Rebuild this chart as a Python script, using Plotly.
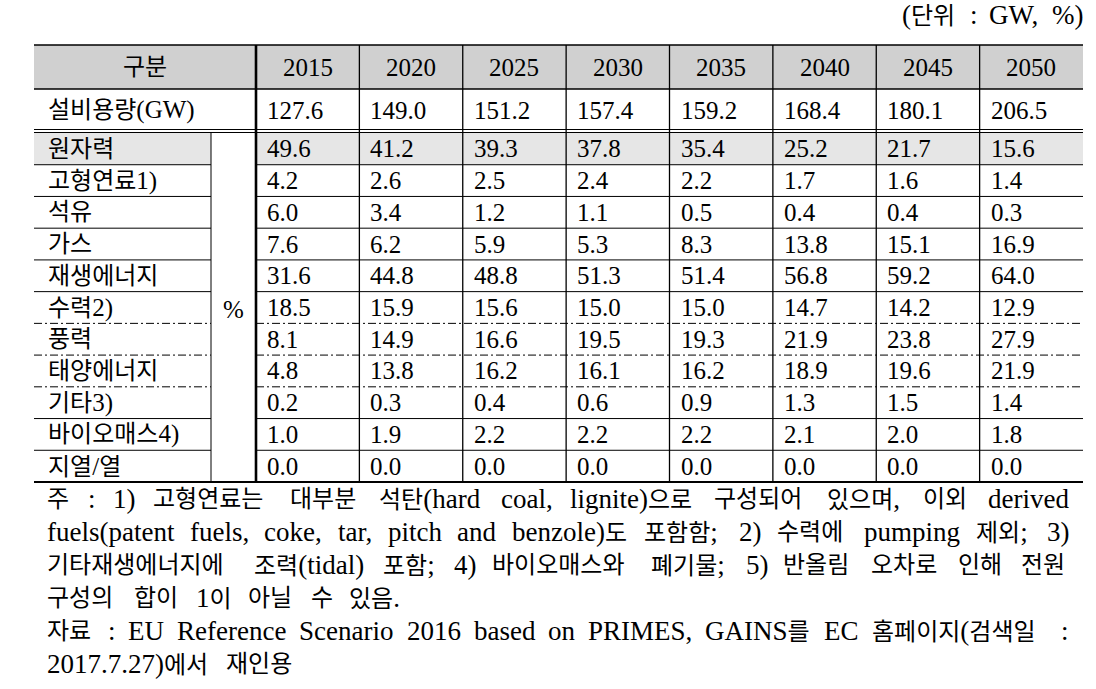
import re
import plotly.graph_objects as go

# ---------------- data ----------------
unit_label = "(단위 : GW, %)"
header_label = "구분"
years = ["2015", "2020", "2025", "2030", "2035", "2040", "2045", "2050"]

capacity_label = "설비용량(GW)"
capacity = [127.6, 149.0, 151.2, 157.4, 159.2, 168.4, 180.1, 206.5]

share_unit = "%"
share_labels = ["원자력", "고형연료1)", "석유", "가스", "재생에너지", "수력2)",
                "풍력", "태양에너지", "기타3)", "바이오매스4)", "지열/열"]
nuclear = [49.6, 41.2, 39.3, 37.8, 35.4, 25.2, 21.7, 15.6]
solid_fuels = [4.2, 2.6, 2.5, 2.4, 2.2, 1.7, 1.6, 1.4]
oil = [6.0, 3.4, 1.2, 1.1, 0.5, 0.4, 0.4, 0.3]
gas = [7.6, 6.2, 5.9, 5.3, 8.3, 13.8, 15.1, 16.9]
renewables = [31.6, 44.8, 48.8, 51.3, 51.4, 56.8, 59.2, 64.0]
hydro = [18.5, 15.9, 15.6, 15.0, 15.0, 14.7, 14.2, 12.9]
wind = [8.1, 14.9, 16.6, 19.5, 19.3, 21.9, 23.8, 27.9]
solar = [4.8, 13.8, 16.2, 16.1, 16.2, 18.9, 19.6, 21.9]
other_res = [0.2, 0.3, 0.4, 0.6, 0.9, 1.3, 1.5, 1.4]
biomass = [1.0, 1.9, 2.2, 2.2, 2.2, 2.1, 2.0, 1.8]
geothermal = [0.0, 0.0, 0.0, 0.0, 0.0, 0.0, 0.0, 0.0]
share_rows = [nuclear, solid_fuels, oil, gas, renewables, hydro, wind, solar,
              other_res, biomass, geothermal]

footnote_lines = [
    "주 : 1) 고형연료는 대부분 석탄(hard coal, lignite)으로 구성되어 있으며, 이외 derived",
    "fuels(patent fuels, coke, tar, pitch and benzole)도 포함함; 2) 수력에 pumping 제외; 3)",
    "기타재생에너지에 조력(tidal) 포함; 4) 바이오매스와 폐기물; 5) 반올림 오차로 인해 전원",
    "구성의 합이 1이 아닐 수 있음.",
    "자료 : EU Reference Scenario 2016 based on PRIMES, GAINS를 EC 홈페이지(검색일 :",
    "2017.7.27)에서 재인용",
]
footnote_justified = [True, True, True, False, True, False]

# ---------------- layout geometry ----------------
W, H = 1096, 689
X_LEFT, X_LAB, X_FIRST, X_RIGHT = 34, 211, 256, 1083
COL_W = (X_RIGHT - X_FIRST) / len(years)
Y_TOP, Y_HEAD, Y_CAP, Y_DATA, Y_BOT = 45, 89, 129.5, 133, 482
ROW_H = (Y_BOT - Y_DATA) / len(share_rows)
DASHED_AFTER = {5, 6, 7}
HEAD_GRAY = "#d0d0d0"
HILITE_GRAY = "#e6e6e6"
FONT = "'Liberation Serif', 'Noto Sans CJK KR', serif"
FS_KO = 24          # Korean glyphs in table
FS_NUM = 25         # numbers / latin in table
FS_NOTE_KO = 24     # Korean glyphs in notes
FS_NOTE_LAT = 27    # latin glyphs in notes
NOTE_L, NOTE_R = 47, 1069
NOTE_Y0, NOTE_DY = 499, 33
NOTE_GAP = 14.5
UNIT_L, UNIT_Y = 902, 15

# Times / Liberation Serif advance widths (per em)
_TW = {' ': .25, '!': .333, '%': .833, '(': .333, ')': .333, ',': .25, '-': .333,
       '.': .25, '/': .278, ':': .278, ';': .278, 'A': .722, 'B': .667, 'C': .667,
       'D': .722, 'E': .611, 'F': .556, 'G': .722, 'H': .722, 'I': .333, 'J': .389,
       'K': .722, 'L': .611, 'M': .889, 'N': .722, 'O': .722, 'P': .556, 'Q': .722,
       'R': .667, 'S': .556, 'T': .611, 'U': .722, 'V': .722, 'W': .944, 'X': .722,
       'Y': .722, 'Z': .611, 'a': .444, 'b': .5, 'c': .444, 'd': .5, 'e': .444,
       'f': .333, 'g': .5, 'h': .5, 'i': .278, 'j': .278, 'k': .5, 'l': .278,
       'm': .778, 'n': .5, 'o': .5, 'p': .5, 'q': .5, 'r': .333, 's': .389,
       't': .278, 'u': .5, 'v': .5, 'w': .722, 'x': .5, 'y': .5, 'z': .444}


def word_width(w, ko, lat):
    tot = 0.0
    for ch in w:
        if ord(ch) < 128:
            tot += _TW.get(ch, .5) * lat
        else:
            tot += ko
    return tot


def layout_words(words, x0, x1, justify, ko, lat, gap):
    widths = [word_width(w, ko, lat) for w in words]
    if justify and len(words) > 1:
        gap = (x1 - x0 - sum(widths)) / (len(words) - 1)
    xs, x = [], x0
    for wd in widths:
        xs.append(x)
        x += wd + gap
    return xs


shapes = []
annotations = []


def mixed(s, lat_size):
    """wrap ASCII runs so latin glyphs use their own size"""
    return re.sub(r"([\x21-\x7e]+)",
                  lambda m: f'<span style="font-size:{lat_size}px">{m.group(1)}</span>', s)


def rect(x0, x1, y0, y1, color):
    shapes.append(dict(type="rect", xref="x", yref="y", x0=x0, x1=x1, y0=y0, y1=y1,
                       fillcolor=color, line=dict(width=0), layer="below"))


def hline(y, x0, x1, w=1.0, dash="solid"):
    shapes.append(dict(type="line", xref="x", yref="y", x0=x0, x1=x1, y0=y, y1=y,
                       line=dict(color="black", width=w, dash=dash)))


def vline(x, y0, y1, w=1.0):
    shapes.append(dict(type="line", xref="x", yref="y", x0=x, x1=x, y0=y0, y1=y1,
                       line=dict(color="black", width=w)))


def text(x, y, s, anchor="left", size=FS_KO):
    annotations.append(dict(x=x, y=y, xref="x", yref="y", text=s, showarrow=False,
                            xanchor=anchor, yanchor="middle", borderpad=0, borderwidth=0,
                            font=dict(family=FONT, size=size, color="black")))


def col_left(i):
    return X_FIRST + i * COL_W


def row_top(r):
    return Y_DATA + r * ROW_H


# backgrounds
rect(X_LEFT, X_RIGHT, Y_TOP, Y_HEAD, HEAD_GRAY)
rect(X_LEFT, X_LAB, row_top(0), row_top(1), HILITE_GRAY)
rect(X_FIRST, X_RIGHT, row_top(0), row_top(1), HILITE_GRAY)

# horizontal rules
hline(Y_TOP, X_LEFT, X_RIGHT, 1.6)
hline(Y_HEAD, X_LEFT, X_RIGHT, 1.6)
hline(Y_CAP, X_LEFT, X_RIGHT, 1.0)
hline(Y_CAP + 3, X_LEFT, X_RIGHT, 1.0)
for r in range(1, len(share_rows)):
    dash = "8px,3px,2px,3px" if (r - 1) in DASHED_AFTER else "solid"
    hline(row_top(r), X_LEFT, X_LAB, 1.0, dash)
    hline(row_top(r), X_FIRST, X_RIGHT, 1.0, dash)
hline(Y_BOT, X_LEFT, X_RIGHT, 2.0)

# vertical rules
vline(X_FIRST, Y_TOP, Y_BOT, 2.6)
for i in range(1, len(years)):
    vline(col_left(i), Y_TOP, Y_BOT, 1.3)
vline(X_LAB, Y_CAP + 3, Y_BOT, 1.0)

# unit label (justified between its left edge and the table's right edge)
uw = unit_label.split(" ")
for w_, x in zip(uw, layout_words(uw, UNIT_L, X_RIGHT, True, FS_KO, FS_NOTE_LAT, 0)):
    text(x, UNIT_Y, mixed(w_, FS_NOTE_LAT), anchor="left", size=FS_KO)

# header
text((X_LEFT + X_FIRST) / 2, 67, header_label, anchor="center")
for i, yr in enumerate(years):
    text(col_left(i) + COL_W / 2, 67.5, yr, anchor="center", size=FS_NUM)

# capacity row
text(48, 110, mixed(capacity_label, FS_NUM))
for i, v in enumerate(capacity):
    text(col_left(i) + 11, 110.5, f"{v:.1f}", size=FS_NUM)

# share rows
for r, (lab, vals) in enumerate(zip(share_labels, share_rows)):
    yc = row_top(r) + ROW_H / 2
    text(48, yc, mixed(lab, FS_NUM))
    for i, v in enumerate(vals):
        text(col_left(i) + 11, yc, f"{v:.1f}", size=FS_NUM)
text((X_LAB + X_FIRST) / 2, 309, share_unit, anchor="center", size=FS_NUM)

# footnotes (justified lines like the original document)
for li, (line, just) in enumerate(zip(footnote_lines, footnote_justified)):
    words = line.split(" ")
    y = NOTE_Y0 + li * NOTE_DY
    xs = layout_words(words, NOTE_L, NOTE_R, just, FS_NOTE_KO, FS_NOTE_LAT, NOTE_GAP)
    for w_, x in zip(words, xs):
        text(x, y, mixed(w_, FS_NOTE_LAT), anchor="left", size=FS_NOTE_KO)

fig = go.Figure()
fig.add_trace(go.Scatter(x=[0, W], y=[0, H], mode="markers",
                         marker=dict(opacity=0), hoverinfo="skip", showlegend=False))
fig.update_layout(
    width=W, height=H, margin=dict(l=0, r=0, t=0, b=0),
    paper_bgcolor="white", plot_bgcolor="white",
    xaxis=dict(range=[0, W], visible=False, fixedrange=True),
    yaxis=dict(range=[H, 0], visible=False, fixedrange=True),
    shapes=shapes, annotations=annotations, showlegend=False,
)
fig.write_html("out.html", config={"displayModeBar": False},
               post_script="document.body.style.margin='0';document.body.style.overflow='hidden';")
